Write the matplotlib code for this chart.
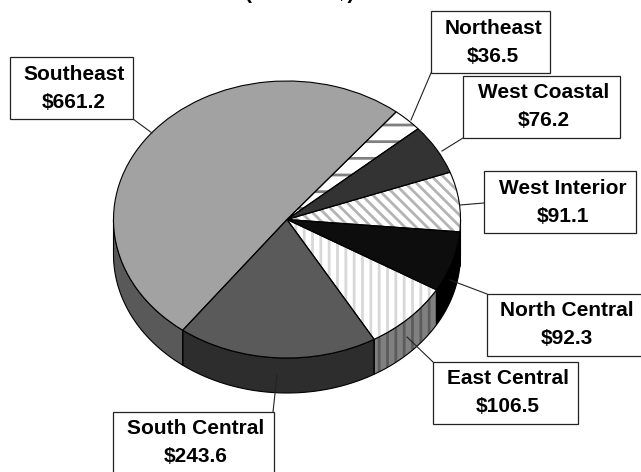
import numpy as np
import matplotlib
matplotlib.use('Agg')
import matplotlib.pyplot as plt
from matplotlib.patches import Rectangle

plt.rcParams['font.family'] = ['Liberation Sans', 'DejaVu Sans']
plt.rcParams['hatch.linewidth'] = 2.0

# values in $ millions, clockwise from the top right
regions = ['Northeast', 'West Coastal', 'West Interior', 'North Central', 'East Central', 'South Central', 'Southeast']
values = [36.5, 76.2, 91.1, 92.3, 106.5, 243.6, 661.2]
value_labels = ['$36.5', '$76.2', '$91.1', '$92.3', '$106.5', '$243.6', '$661.2']

top_colors = ['white', '#333333', 'white', '#0d0d0d', 'white', '#5a5a5a', '#a2a2a2']
side_colors = ['white', '#1a1a1a', '#000000', '#000000', '#808080', '#2d2d2d', '#595959']
top_hatch_colors = ['#808080', '#333333', '#b4b4b4', '#0d0d0d', '#d8d8d8', '#5a5a5a', '#a2a2a2']
side_hatch_colors = ['#808080', '#1a1a1a', '#000000', '#000000', '#5c5c5c', '#2d2d2d', '#595959']
hatches = ['-', None, '\\\\\\', None, '||', None, None]

# label boxes in pixels: left, top, right, bottom
boxes = [
    (431, 11, 550, 73),
    (463, 76, 620, 138),
    (484, 171, 636, 233),
    (487, 294, 642, 356),
    (433, 362, 578, 424),
    (113, 412, 274, 474),
    (10, 57, 133, 119),
]
# leader lines in pixels: box end, pie end
leaders = [
    ((431, 73), (411, 120)),
    ((463, 138), (442, 151)),
    ((484, 203), (460, 205)),
    ((487, 294), (450, 280)),
    ((433, 362), (407, 337)),
    ((273, 412), (277, 375)),
    ((133, 119), (152, 133)),
]

W, H = 641, 472
cx, cy, rx, ry = 287, 219.5, 173.5, 138.5
depth = 35 / ry

fig = plt.figure(figsize=(W / 100, H / 100), dpi=100)
ax = fig.add_axes([0, 0, 1, 1])

wedges, _ = ax.pie(values, startangle=51, counterclock=False, colors=top_colors, hatch=hatches,
                   wedgeprops=dict(linewidth=0, zorder=3))
for w, c in zip(wedges, top_hatch_colors):
    w.set_edgecolor(c)
ax.pie(values, startangle=51, counterclock=False, colors=['none'] * len(values),
       wedgeprops=dict(edgecolor='black', linewidth=0.8, zorder=4))

# side wall of the disc, only the front half shows
for w, fc, hc, h in zip(wedges, side_colors, side_hatch_colors, hatches):
    a = max(w.theta1, -180)
    b = min(w.theta2, 0)
    if b <= a:
        continue
    t = np.radians(np.linspace(a, b, 80))
    xs = np.r_[np.cos(t), np.cos(t[::-1])]
    ys = np.r_[np.sin(t), np.sin(t[::-1]) - depth]
    ax.fill(xs, ys, facecolor=fc, edgecolor=hc, hatch=h, linewidth=0, zorder=1)
    ax.fill(xs, ys, facecolor='none', edgecolor='black', linewidth=0.8, zorder=2)

ax.set_aspect('auto')
ax.set_xlim(-cx / rx, (W - cx) / rx)
ax.set_ylim((cy - H) / ry, cy / ry)
ax.axis('off')

# overlay in pixel coordinates for the callouts
ov = fig.add_axes([0, 0, 1, 1])
ov.set_xlim(0, W)
ov.set_ylim(H, 0)
ov.axis('off')
ov.patch.set_alpha(0)

for (p0, p1) in leaders:
    ov.plot([p0[0], p1[0]], [p0[1], p1[1]], color='#222222', linewidth=0.8, zorder=1)

for name, val, (x0, y0, x1, y1) in zip(regions, value_labels, boxes):
    ov.add_patch(Rectangle((x0, y0), x1 - x0, y1 - y0, facecolor='white', edgecolor='#222222',
                           linewidth=0.9, zorder=2, clip_on=True))
    mid = (x0 + x1) / 2 + 2.5
    ov.text(mid, y0 + 17, name, ha='center', va='center', fontsize=15, fontweight='bold', zorder=3)
    ov.text(mid, y0 + 45, val, ha='center', va='center', fontsize=15, fontweight='bold', zorder=3)

# title sits almost entirely above the top edge of the picture
ov.text(300, -1, '(Millions $)', ha='center', va='baseline', fontsize=15, fontweight='bold', zorder=3)

fig.savefig('out.png', dpi=100)
